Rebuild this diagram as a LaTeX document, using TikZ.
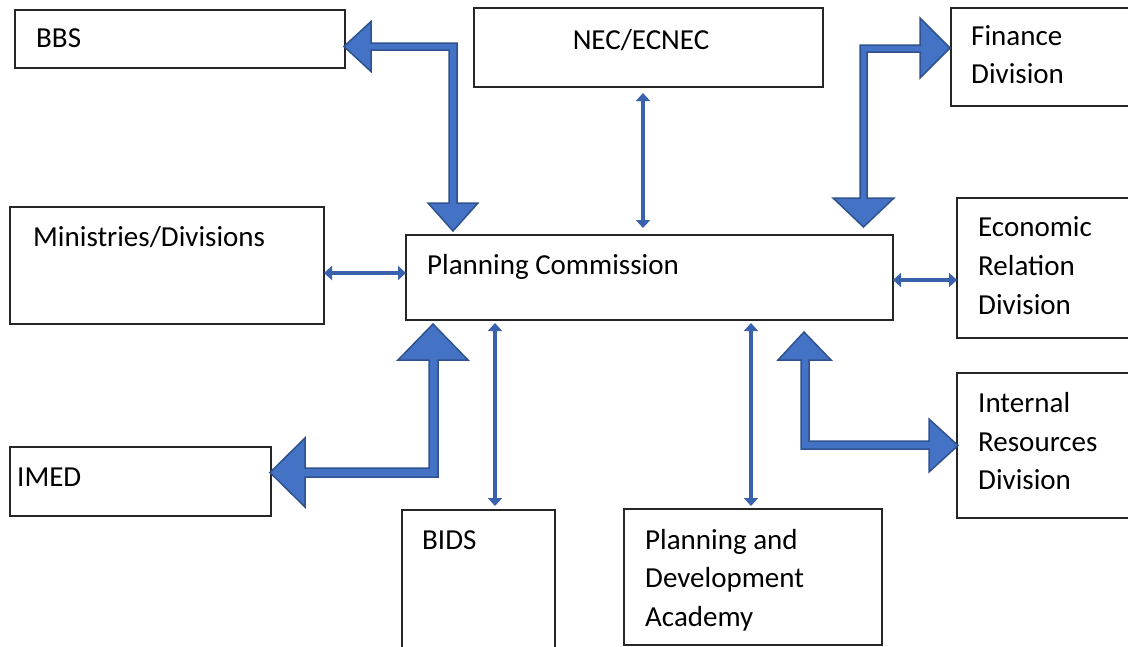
\documentclass[tikz,border=0pt]{standalone}
\usepackage{fontspec}
\setmainfont{Carlito}
\usetikzlibrary{arrows.meta}
\definecolor{blk}{HTML}{4472C4}
\definecolor{blkline}{HTML}{2F528F}
\definecolor{thinarr}{HTML}{3A62AC}
\begin{document}
\begin{tikzpicture}[x=1pt,y=-1pt,
  box/.style={draw=black!85,line width=1.2pt,inner sep=0pt,outer sep=0pt},
  txt/.style={anchor=base west,inner sep=0pt,font=\fontsize{29pt}{38.5pt}\selectfont},
  dblarrow/.style={line width=4.6pt,draw=thinarr,{Triangle[width=14pt,length=8pt]}-{Triangle[width=14pt,length=8pt]}},
  blockarrow/.style={fill=blk,draw=blkline,line width=1.5pt,line join=miter}]
\path[use as bounding box] (0,0) rectangle (1128,646);
\clip (0,0) rectangle (1128,646);
% boxes
\node[box,minimum width=330pt,minimum height=58pt] (bbs) at (180,39) {};
\node[box,minimum width=349pt,minimum height=79pt] (nec) at (648.5,47.5) {};
\node[box,minimum width=189pt,minimum height=98pt] (fin) at (1045.5,57) {};
\node[box,minimum width=314pt,minimum height=117pt] (min) at (167,265.5) {};
\node[box,minimum width=487pt,minimum height=85pt] (pc) at (649.5,277.5) {};
\node[box,minimum width=183pt,minimum height=140pt] (erd) at (1048.5,268) {};
\node[box,minimum width=183pt,minimum height=145pt] (ird) at (1048.5,445.5) {};
\node[box,minimum width=261pt,minimum height=69pt] (imed) at (140.5,481.5) {};
\node[box,minimum width=153pt,minimum height=150pt] (bids) at (478.5,585) {};
\node[box,minimum width=258pt,minimum height=136pt] (pda) at (753,577) {};
% texts
\node[txt] (tbbs) at (36,47) {BBS};
\node[txt,anchor=base] (tnec) at (641,49) {NEC/ECNEC};
\node[txt] (tfin1) at (971,45) {Finance};
\node[txt] (tfin2) at (971,83) {Division};
\node[txt] (tmin) at (33,246) {Ministries/Divisions};
\node[txt] (tpc) at (427,274) {Planning Commission};
\node[txt] (terd1) at (978,236) {Economic};
\node[txt] (terd2) at (978,275) {Relation};
\node[txt] (terd3) at (978,314) {Division};
\node[txt] (tird1) at (978,412) {Internal};
\node[txt] (tird2) at (978,451) {Resources};
\node[txt] (tird3) at (978,489) {Division};
\node[txt] (timed) at (17,486) {IMED};
\node[txt] (tbids) at (422,549) {BIDS};
\node[txt] (tpda1) at (645,549) {Planning and};
\node[txt] (tpda2) at (645,587) {Development};
\node[txt] (tpda3) at (645,626) {Academy};
% thin double arrows
\draw[dblarrow] (min.east |- 0,273) -- (pc.west |- 0,273);
\draw[dblarrow] (pc.east |- 0,280) -- (erd.west |- 0,280);
\draw[dblarrow,shorten <=6pt,shorten >=7pt] (nec.south -| 643,0) -- (pc.north -| 643,0);
\draw[dblarrow,shorten <=3pt,shorten >=4pt] (pc.south -| 495,0) -- (bids.north -| 495,0);
\draw[dblarrow,shorten <=3pt,shorten >=3pt] (pc.south -| 751,0) -- (pda.north -| 751,0);
% block arrows
\draw[blockarrow] (344,46.5) -- (371,21.5) -- (371,43) -- (457,43) -- (457,203) -- (478,203)
  -- (453,231) -- (428,203) -- (449,203) -- (449,50) -- (371,50) -- (371,71.5) -- cycle;
\draw[blockarrow] (950,48) -- (920,18) -- (920,45) -- (860,45) -- (860,198) -- (833,198)
  -- (863.5,227) -- (894,198) -- (867,198) -- (867,52) -- (920,52) -- (920,78) -- cycle;
\draw[blockarrow] (433,324) -- (468,360) -- (438,360) -- (438,477) -- (305,477) -- (305,507)
  -- (270,472.5) -- (305,438) -- (305,468) -- (429,468) -- (429,360) -- (398,360) -- cycle;
\draw[blockarrow] (804,332) -- (831,360) -- (809,360) -- (809,441) -- (929,441) -- (929,419)
  -- (958,445.5) -- (929,472) -- (929,449) -- (801,449) -- (801,360) -- (778,360) -- cycle;
\end{tikzpicture}
\end{document}
